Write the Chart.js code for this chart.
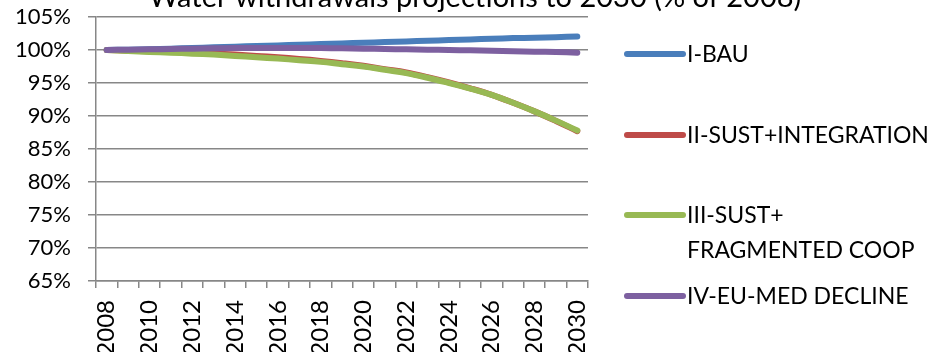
<!DOCTYPE html>
<html>
<head>
<meta charset="utf-8">
<script src="https://cdn.jsdelivr.net/npm/chart.js@4.4.1/dist/chart.umd.min.js"></script>
<style>
  html, body { margin: 0; padding: 0; background: #ffffff; }
  canvas { display: block; }
</style>
</head>
<body>
<canvas id="c" width="929" height="352"></canvas>
<script>
const TITLE = "Water withdrawals projections to 2030 (% of 2008)";
const years = ["2008","2009","2010","2011","2012","2013","2014","2015","2016","2017","2018","2019","2020","2021","2022","2023","2024","2025","2026","2027","2028","2029","2030"];
const seriesNames = ["I-BAU", "II-SUST+INTEGRATION", "III-SUST+\nFRAGMENTED COOP", "IV-EU-MED DECLINE"];
const bau      = [100,100.05,100.1,100.2,100.3,100.4,100.5,100.6,100.7,100.8,100.9,101.0,101.1,101.2,101.3,101.4,101.5,101.6,101.7,101.8,101.85,101.95,102.05];
const sustInt  = [100,99.9,99.8,99.7,99.6,99.45,99.3,99.1,98.9,98.65,98.35,98.0,97.6,97.1,96.6,95.9,95.1,94.2,93.2,92.0,90.7,89.25,87.7];
const sustFrag = [100,99.85,99.7,99.6,99.45,99.3,99.1,98.9,98.7,98.45,98.2,97.85,97.5,97.0,96.5,95.8,95.0,94.15,93.2,92.0,90.7,89.3,87.8];
const euMed    = [100,100.05,100.1,100.15,100.2,100.25,100.3,100.3,100.3,100.3,100.3,100.25,100.2,100.15,100.1,100.05,100.0,99.95,99.9,99.8,99.75,99.7,99.6];
const yTicks = [65,70,75,80,85,90,95,100,105];

const colors = ["#4A7EBB", "#BE4B48", "#98B954", "#7D60A0"];
const FONT = "Lato, 'Open Sans', sans-serif";
const GRID = "#878787";

const values = [bau, sustInt, sustFrag, euMed];
const datasets = values.map((v, i) => ({
  label: seriesNames[i],
  data: v,
  borderColor: colors[i],
  backgroundColor: colors[i],
  borderWidth: 6,
  pointRadius: 0,
  pointHoverRadius: 0,
  tension: 0.4,
  borderCapStyle: 'round',
  borderJoinStyle: 'round',
  fill: false,
  order: 3 - i
}));

const sidePlugin = {
  id: 'side',
  afterDraw(chart) {
    const ctx = chart.ctx;
    ctx.save();
    // title
    ctx.fillStyle = '#000';
    ctx.font = "29px " + FONT;
    ctx.textAlign = 'center';
    ctx.textBaseline = 'alphabetic';
    ctx.fillText(TITLE, 475, 7);
    // legend
    const x0 = 627, x1 = 683, tx = 687;
    const rows = [54, 135, 215, 296];
    ctx.font = "23px " + FONT;
    ctx.textAlign = 'left';
    ctx.textBaseline = 'middle';
    chart.data.datasets.forEach((ds, i) => {
      const y = rows[i];
      ctx.strokeStyle = ds.borderColor;
      ctx.lineWidth = 6;
      ctx.lineCap = 'round';
      ctx.beginPath();
      ctx.moveTo(x0, y);
      ctx.lineTo(x1, y);
      ctx.stroke();
      ctx.fillStyle = '#000';
      ds.label.split('\n').forEach((line, k) => {
        ctx.fillText(line, tx, y + 1 + k * 35);
      });
    });
    ctx.restore();
  }
};

new Chart(document.getElementById('c'), {
  type: 'line',
  data: { labels: years, datasets },
  plugins: [sidePlugin],
  options: {
    responsive: false,
    animation: false,
    events: [],
    layout: { padding: { top: 17, right: 341, left: 0, bottom: 0 } },
    plugins: {
      legend: { display: false },
      title: { display: false },
      tooltip: { enabled: false }
    },
    scales: {
      x: {
        type: 'category',
        offset: true,
        afterFit(s) { s.height = 71; s.paddingLeft = 0; s.paddingRight = 0; },
        grid: {
          display: true,
          drawOnChartArea: false,
          drawTicks: true,
          tickLength: 7,
          color: GRID,
          lineWidth: 1.5,
          offset: true
        },
        border: { display: true, color: GRID, width: 1.5 },
        ticks: {
          autoSkip: false,
          maxRotation: 90,
          minRotation: 90,
          padding: 12,
          color: '#000',
          font: { family: FONT, size: 24 },
          callback(v, i) { return i % 2 === 0 ? years[i] : ''; }
        }
      },
      y: {
        min: 65,
        max: 105,
        afterFit(s) { s.width = 96; s.paddingTop = 0; s.paddingBottom = 0; },
        afterBuildTicks(s) { s.ticks = yTicks.map(v => ({ value: v })); },
        grid: {
          color: GRID,
          lineWidth: 1.5,
          drawTicks: true,
          tickLength: 8
        },
        border: { display: true, color: GRID, width: 1.5 },
        ticks: {
          padding: 17,
          color: '#000',
          font: { family: FONT, size: 22 },
          callback(v) { return v + '%'; }
        }
      }
    }
  }
});
</script>
</body>
</html>
